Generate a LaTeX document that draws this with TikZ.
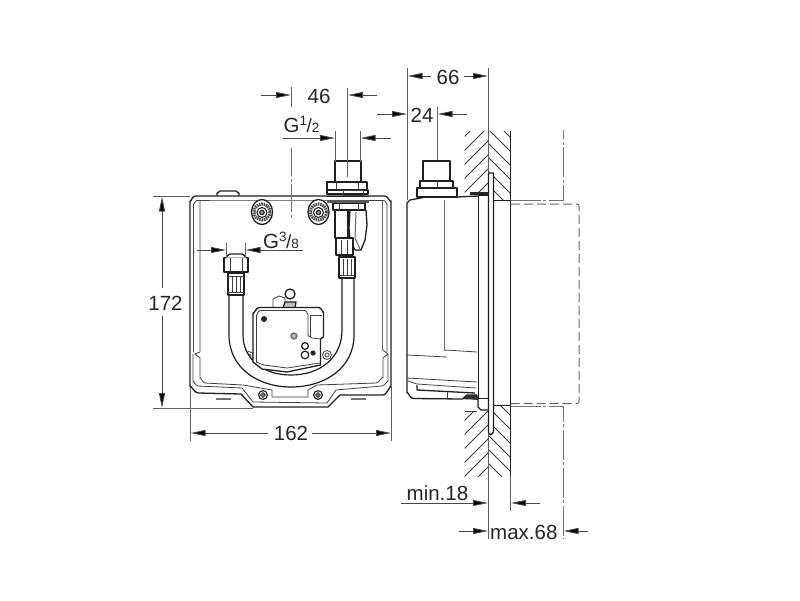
\documentclass[tikz,border=0pt]{standalone}
\usepackage{fontspec}
\setmainfont{Liberation Sans}
\usetikzlibrary{arrows.meta}
\newcommand{\bigt}{\fontsize{20.5}{22}\selectfont}
\newcommand{\smallt}{\fontsize{13.5}{14}\selectfont}
\newcommand{\frc}[2]{{\bigt G}\raisebox{7pt}{\smallt #1}{\fontsize{19}{19}\selectfont\kern-0.5pt/}{\smallt #2}}
\tikzset{
  ol/.style={line width=1.3pt,draw=black!88,line join=round},
  th/.style={line width=0.8pt,draw=black!75,line join=round},
  ext/.style={line width=1pt,draw=black!62},
  dima/.style={line width=0.9pt,draw=black!72,-{Triangle[length=15pt,width=6pt,fill=black]}},
  ctr/.style={line width=1pt,draw=black!55,dash pattern=on 30pt off 2.5pt on 3pt off 2.5pt},
  hatchl/.style={line width=0.8pt,draw=black!78},
  lab/.style={inner sep=0pt,font=\bigt,text=black!85},
  fil/.style={ol,fill=white},
}
\begin{document}
\begin{tikzpicture}[x=1pt,y=-1pt]
\useasboundingbox[fill=white] (0,0) rectangle (800,600);

% ---- front view: housing
\draw[ext] (153,196) -- (190,196);
\draw[ext] (153,408) -- (253,408);
\draw[ext] (190,387) -- (190,441);
\draw[ext] (391,387) -- (391,441);
\draw[fil] (217,196) -- (217,193) to[out=-80,in=180] (220,191) -- (236,191) to[out=0,in=-100] (239,193) -- (239,196);
\draw[ol] (190,387) -- (190,201) to[out=-90,in=180] (195,196) -- (385,196) to[out=0,in=-90] (391,201) -- (391,387)
  to[out=90,in=0] (383,395) -- (340,395) -- (328,407) -- (253,407) -- (241,394) -- (198,393) to[out=180,in=90] (190,387);
\draw[th] (193.5,352) -- (193.5,204) to[out=-90,in=180] (197,200.5) -- (384,200.5) to[out=0,in=-90] (387,204) -- (387,352);
\draw[th] (200,200.5) -- (200,352) -- (195,354) -- (200,358) -- (200,378) to[out=90,in=180] (205,383) -- (243,385) -- (272,390) -- (272,397) -- (308,397) -- (308,390) -- (317,385) -- (376,383) to[out=0,in=90] (383,378) -- (383,358) -- (388,354);
\draw[th] (193,354) -- (193,382) to[out=90,in=180] (198,386) -- (242,388) -- (253,402) -- (327,403) -- (336,390) -- (382,386) to[out=0,in=90] (388,382) -- (388,354) -- (383,350);
\draw[line width=1pt,draw=black!60] (382,201) -- (382,350);
\draw[line width=1.8pt,draw=black!50] (210,200.5) -- (327,200.5);
\draw[line width=1.6pt,draw=black!55] (216,399) -- (231,399) (351,399) -- (366,399);
\foreach \cx/\cy in {263/395,318/395}{
  \draw[fil,line width=1.1pt] (\cx,\cy) circle (4.4);
  \draw[line width=1.6pt,draw=black!70] (\cx,\cy) circle (1.9);
}
\foreach \cx/\cy in {249/356,327/355}{
  \draw[th,fill=white] (\cx,\cy) circle (4.5);
  \draw[line width=1pt,draw=black!60] (\cx,\cy) circle (2);
}
% keyholes
\foreach \cx in {262,318.5}{
  \draw[ol,fill=white] (\cx,212) ellipse (10.5 and 12.5);
  \draw[line width=3pt,draw=black!70,dash pattern=on 1.5pt off 0.8pt] (\cx,212) circle (8);
  \draw[line width=1.1pt,draw=black!85,fill=white] (\cx,212.5) circle (5);
  \draw[line width=1.1pt,draw=black!85,fill=black!40] (\cx,212.5) circle (2.2);
}

% hoses
\draw[line width=1.2pt,draw=black!88,fill=white]
  (229,294) -- (229,335) .. controls (229,368) and (258,387) .. (291,387)
  .. controls (325,387) and (354,368) .. (354,335) -- (354,277) -- (342,277) -- (342,330)
  .. controls (342,358) and (320,375) .. (291,375)
  .. controls (262,375) and (243,358) .. (243,335) -- (243,294) -- cycle;
% left fitting
\draw[fil] (228,273) rectangle (244,295);
\foreach \px in {232,236,240}{\draw[th] (\px,276) -- (\px,292);}
\draw[th] (228,292) -- (244,292) (228,276) -- (244,276);
\draw[fil] (224,257.5) rectangle (248,272);
\draw[th] (230,257.5) -- (230,272) (242,257.5) -- (242,272);
\draw[fil] (225,257.5) to[out=-80,in=180] (230,254) -- (242,254) to[out=0,in=-100] (247,257.5);
% right fitting
\draw[fil] (339,257) rectangle (355,278);
\foreach \px in {343,347,351}{\draw[th] (\px,259) -- (\px,275);}
\draw[th] (339,275) -- (355,275);

% controller
\draw[th,fill=white] (273,309) -- (273,299) -- (279,296) -- (285,298) -- (285,309);
\draw[ol,fill=white] (290,294) circle (5);
\draw[ol,fill=black!25] (283,308) -- (285,302) -- (296,302) -- (295,308);
\draw[ol,fill=white] (253,362) -- (253,313) to[out=-90,in=180] (259,307.5) -- (319,307.5) to[out=0,in=-90] (323.5,312) -- (323.5,337) -- (320.5,339) -- (320.5,365) -- (287,372) -- (262,369) -- cycle;
\draw[th] (256.5,362) -- (256.5,315) to[out=-90,in=180] (260,310.5) -- (305,310.5) to[out=0,in=-90] (308,314) -- (308,336) to[out=90,in=180] (312,338) -- (320.5,339);
\draw[th] (310,315) -- (322,315) (310,315) -- (310,337);
\draw[th] (256,362) -- (264,365) -- (287,368) -- (320,363);
\fill[black!85] (264,319) circle (3);
\draw[line width=1.4pt,draw=black!55,fill=black!30] (294,336) circle (3);
\draw[line width=1.2pt,draw=black!90,fill=white] (305,346) circle (3.4);
\draw[line width=1.2pt,draw=black!90,fill=white] (305,355) circle (3.8);
\fill[black!85] (313,353) circle (2.6);

% valve
\draw[ol,fill=white] (350,210) -- (366,210) -- (367,225) -- (365,240) -- (361,250) -- (355,250) -- (350,240) -- (349,228) -- cycle;
\draw[line width=1pt,draw=black!60] (356,212) -- (355,238) -- (360,249);
\draw[fil] (335,208) rectangle (348,238);
\draw[fil] (336,238) rectangle (353,255);
\foreach \px in {341,347}{\draw[th] (\px,240) -- (\px,254);}
\draw[fil] (333,203) rectangle (365,210);
\draw[th] (339,203) -- (339,210) (358,203) -- (358,210);
\draw[fil] (335,161) rectangle (361,182);
\draw[fil] (327,182) rectangle (367,190);
\draw[th] (336,182) -- (336,190) (358,182) -- (358,190);
\draw[fil] (327,190) rectangle (368,194);
\draw[th] (343,190) rectangle (363,195);
\fill[black!65] (327,199.5) rectangle (369,203);
\fill[black!85] (327,196) -- (369,196) -- (369,197) -- (327,197) -- cycle;

% ---- side view: wall
\begin{scope}
\clip (464.5,131) rectangle (488.5,192);
\foreach \c in {601,615,629,643,657,671,685}{\draw[hatchl] (464,\c-464) -- (490,\c-490);}
\end{scope}
\begin{scope}
\clip (488.5,131) rectangle (510.5,200.5);
\foreach \c in {373,359,345,331,317,303,289}{\draw[hatchl] (488,488-\c) -- (512,512-\c);}
\end{scope}
\begin{scope}
\clip (464.5,411) rectangle (488.5,476);
\foreach \c in {885,899,913,927,941,955,969}{\draw[hatchl] (464,\c-464) -- (490,\c-490);}
\end{scope}
\begin{scope}
\clip (488.5,406) rectangle (510.5,476);
\foreach \c in {95,81,67,53,39,25,11}{\draw[hatchl] (488,488-\c) -- (512,512-\c);}
\end{scope}
\draw[th] (464.5,411) -- (477,411);
\draw[line width=1.2pt,draw=black!88] (510.5,131) -- (510.5,476);

% dashed hidden body
\draw[line width=1pt,draw=black!60,dash pattern=on 9pt off 4pt,rounded corners=2pt] (511,204) -- (579,204) -- (579,403.5) -- (511,403.5);
% dash-dot outline
\draw[ctr] (510.5,200.5) -- (563,200.5) -- (563,130);
\draw[ctr] (510.5,406) -- (563,406) -- (563,539);

% side body
\draw[ol] (407,393) -- (407,203) -- (410,200) -- (426,197);
\draw[ol] (407,393) to[out=90,in=180] (413,398.5) -- (463,399);
\draw[ol] (457,197) -- (478,196);
\draw[line width=1.2pt,draw=black!88] (478.5,194) -- (478.5,398);
\draw[line width=1pt,draw=black!55] (444,200) -- (444,350) -- (445.5,350);
\draw[th] (407,355) -- (447,357) (446,350) -- (477,352);
\draw[th] (407,378) -- (477,382) (408,381) -- (417,384) -- (476,388);
\draw[ol] (417,385) -- (417,390) -- (475,393);
\draw[th] (447,392) -- (447,399);
\draw[ol,fill=black!70] (463,398.5) -- (467,395) -- (477,395) -- (477,399) -- cycle;
\draw[fil] (423,161) rectangle (450,180.5);
\draw[fil] (420,181) rectangle (453,188);
\draw[fil] (417,188) rectangle (457,197);
\draw[th] (437,181) -- (437,188);
% frame and plate
\fill[black!85] (470,192) rectangle (488,195);
\draw[ol] (478,195) -- (488,195);
\draw[ol] (478,398.5) -- (488,398.5);
\draw[ol] (478,398.5) -- (478,407) -- (481,410) -- (488,410);
\fill[black!80] (464,398) -- (470,395) -- (478,397) -- (478,400) -- cycle;
\draw[ol,fill=white] (488.5,173) -- (493.5,173) -- (493.5,432) -- (491,435) -- (488.5,433) -- cycle;
\draw[line width=1.3pt,draw=black!88] (494,200.5) -- (510.5,200.5);
\draw[line width=1.3pt,draw=black!88] (494,405.5) -- (510.5,405.5);

% ---- extension lines & centre lines
\draw[ext] (291,87) -- (291,107);
\draw[ctr,dash pattern=on 28pt off 2.5pt on 3pt off 2.5pt] (291,148) -- (291,218);
\draw[ext] (347.6,88) -- (347.6,177);
\draw[ext] (335,131) -- (335,162);
\draw[ext] (360,131) -- (360,162);
\draw[ext] (226,243) -- (226,258);
\draw[ext] (245,243) -- (245,258);
\draw[ext] (407,68) -- (407,200);
\draw[ext] (488.5,68) -- (488.5,173);
\draw[ext] (488.5,433) -- (488.5,539);
\draw[ext] (437,107) -- (437,160);
\draw[ext] (510.5,476) -- (510.5,511);

% ---- dimensions
\draw[dima] (261,95) -- (291,95);
\draw[dima] (377,95) -- (348,95);
\node[lab] (d46) at (319,96) {46};
\draw[dima] (283,138) -- (335,138);
\draw[dima] (391,138) -- (360.5,138);
\node[lab,anchor=base west] (g12) at (283.5,132) {\frc{1}{2}};
\draw[dima] (197,250) -- (226,250);
\draw[dima] (303,250) -- (245.5,250);
\node[lab,anchor=base west] (g38) at (263,248) {\frc{3}{8}};
\draw[dima] (162,288) -- (162,196.5);
\draw[dima] (162,316) -- (162,408);
\node[lab,fill=white,inner sep=1pt] (d172) at (165.5,303) {172};
\draw[dima] (268,433) -- (190.5,433);
\draw[dima] (312,433) -- (391,433);
\node[lab] (d162) at (291,433) {162};
\draw[dima] (431,76) -- (407.5,76);
\draw[dima] (464,76) -- (488,76);
\node[lab] (d66) at (448,77) {66};
\draw[dima] (377,114) -- (407,114);
\draw[dima] (467,114) -- (437.5,114);
\node[lab] (d24) at (422,115) {24};
\draw[dima] (401,503) -- (488,503);
\draw[dima] (540,503) -- (511,503);
\node[lab,anchor=base west] (dmin) at (406.5,500) {min.18};
\draw[dima] (459,531) -- (488,531);
\draw[dima] (588,531) -- (563.5,531);
\node[lab,anchor=base west] (dmax) at (490,539) {max.68};
\end{tikzpicture}
\end{document}
